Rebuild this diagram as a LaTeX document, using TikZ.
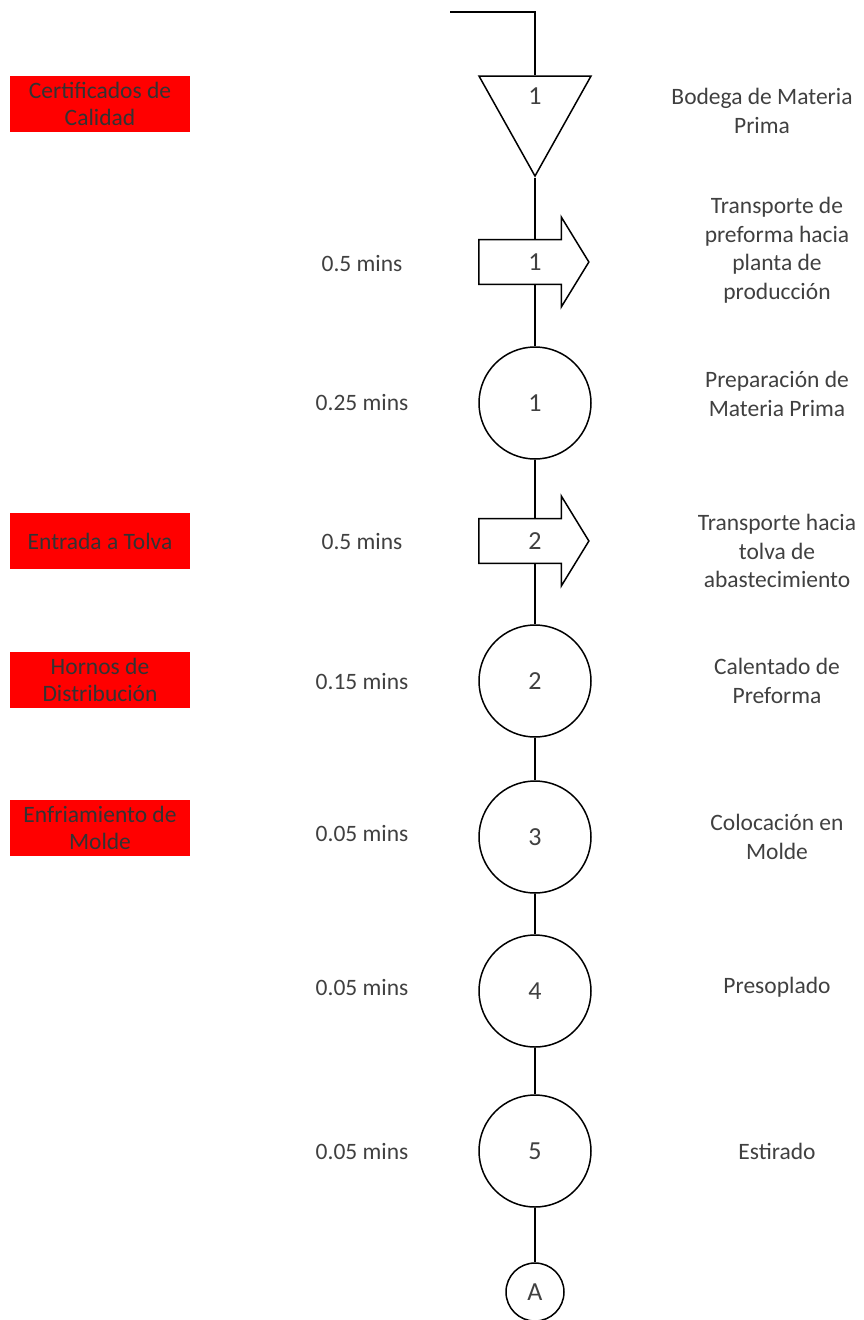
\documentclass[tikz,border=0pt]{standalone}
\usepackage{fontspec}
\setmainfont{Carlito}
\usepackage{xcolor}
\usetikzlibrary{arrows.meta,positioning,shapes,calc,backgrounds}
\definecolor{txtgray}{RGB}{64,64,64}
\definecolor{alerta}{RGB}{255,0,0}

\begin{document}
\begin{tikzpicture}[
    x=1pt, y=-1pt,
    every node/.style={font=\fontsize{23.5}{28.5}\selectfont, text=txtgray},
    num/.style={font=\fontsize{26}{30}\selectfont},
    oper/.style={circle, draw, line width=1.5pt, fill=white, minimum size=112pt, inner sep=0pt, num},
    transp/.style={single arrow, draw, line width=1.5pt, fill=white, minimum height=110pt, inner xsep=0pt, inner ysep=13.25pt, single arrow head extend=22.5pt, single arrow tip angle=117, num, execute at begin node=\hspace*{16pt}},
    store/.style={isosceles triangle, isosceles triangle stretches, shape border rotate=270, draw, line width=1.5pt, fill=white, minimum width=112pt, minimum height=100pt, inner sep=0pt},
    conector/.style={circle, draw, line width=1.5pt, fill=white, minimum size=58pt, inner sep=0pt, num},
    link/.style={line width=1.5pt},
    desc/.style={align=center},
    control/.style={fill=alerta, minimum width=180pt, minimum height=56pt, align=center, text=black!80, font=\fontsize{23.5}{27}\selectfont}
]
    \useasboundingbox (0,0) rectangle (864,1320);

    % Entrada (top)
    \coordinate (inicio) at (450,12);

    % Almacen
    \node[store, anchor=apex] (bodega) at (535,178) {};
    \node[num] (bodeganum) at (535,96) {1};

    % Column of steps
    \node[transp] (tr1) at (527,262) {1};
    \node[oper] (op1) at (535,403) {1};
    \node[transp] (tr2) at (527,541) {2};
    \node[oper] (op2) at (535,681) {2};
    \node[oper] (op3) at (535,837) {3};
    \node[oper] (op4) at (535,991) {4};
    \node[oper] (op5) at (535,1151) {5};
    \node[conector] (conA) at (535,1292) {A};

    % Flow line (behind the symbols)
    \begin{scope}[on background layer]
    \draw[link] (inicio) -| (bodega.north);
    \draw[link] (bodega.apex) -- (bodega.apex |- tr1.center) -- (op1);
    \draw[link] (op1) -- (op1 |- tr2.center) -- (op2);
    \draw[link] (op2) -- (op3);
    \draw[link] (op3) -- (op4);
    \draw[link] (op4) -- (op5);
    \draw[link] (op5) -- (conA);
    \end{scope}

    % Times (left)
    \node (t1) at (362,264) {0.5 mins};
    \node (t2) at (362,403) {0.25 mins};
    \node (t3) at (362,541) {0.5 mins};
    \node (t4) at (362,681) {0.15 mins};
    \node (t5) at (362,833) {0.05 mins};
    \node (t6) at (362,987) {0.05 mins};
    \node (t7) at (362,1151) {0.05 mins};

    % Descriptions (right)
    \node[desc] (d1) at (762,111) {Bodega de Materia\\Prima};
    \node[desc] (d2) at (777,250) {Transporte de\\preforma hacia\\planta de\\producción};
    \node[desc] (d3) at (777,394) {Preparación de\\Materia Prima};
    \node[desc] (d4) at (777,551) {Transporte hacia\\tolva de\\abastecimiento};
    \node[desc] (d5) at (777,681) {Calentado de\\Preforma};
    \node[desc] (d6) at (777,837) {Colocación en\\Molde};
    \node[desc] (d7) at (777,987) {Presoplado};
    \node[desc] (d8) at (777,1151) {Estirado};

    % Control points (red)
    \node[control] (c1) at (100,104) {Certificados de\\Calidad};
    \node[control] (c2) at (100,541) {Entrada a Tolva};
    \node[control] (c3) at (100,680) {Hornos de\\Distribución};
    \node[control] (c4) at (100,828) {Enfriamiento de\\Molde};

\end{tikzpicture}
\end{document}
